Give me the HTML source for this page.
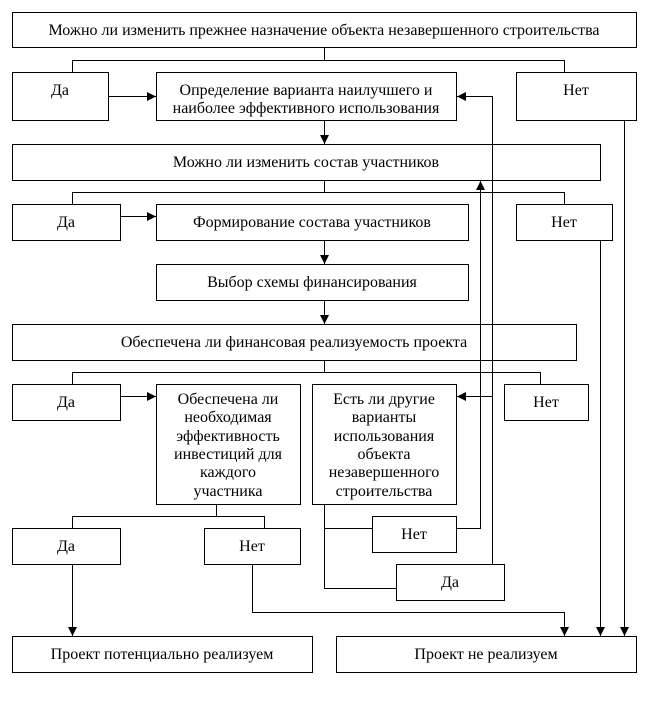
<!DOCTYPE html>
<html><head><meta charset="utf-8"><style>
html,body{margin:0;padding:0;background:#fff;}
svg{display:block;}
text{font-family:"Liberation Serif","DejaVu Serif",serif;font-size:16px;fill:#000;text-anchor:middle;}
</style></head><body>
<svg width="648" height="708" viewBox="0 0 648 708" xmlns="http://www.w3.org/2000/svg">
<defs>
<marker id="a" viewBox="0 0 10 10" refX="10" refY="5" markerWidth="10" markerHeight="9" markerUnits="userSpaceOnUse" orient="auto">
<path d="M0,0 L10,5 L0,10 z" fill="#000"/>
</marker>
</defs>
<g fill="none" stroke="#000" stroke-width="1">
<rect x="12.5" y="12.5" width="624" height="35"/>
<rect x="12.5" y="72.5" width="96" height="48"/>
<rect x="156.5" y="72.5" width="300" height="48"/>
<rect x="516.5" y="72.5" width="120" height="48"/>
<rect x="12.5" y="144.5" width="588" height="36"/>
<rect x="12.5" y="204.5" width="108" height="36"/>
<rect x="156.5" y="204.5" width="312" height="36"/>
<rect x="516.5" y="204.5" width="96" height="36"/>
<rect x="156.5" y="264.5" width="312" height="36"/>
<rect x="12.5" y="324.5" width="564" height="36"/>
<rect x="12.5" y="384.5" width="108" height="36"/>
<rect x="156.5" y="384.5" width="144" height="120"/>
<rect x="312.5" y="384.5" width="144" height="120"/>
<rect x="504.5" y="384.5" width="84" height="36"/>
<rect x="12.5" y="528.5" width="108" height="36"/>
<rect x="204.5" y="528.5" width="96" height="36"/>
<rect x="372.5" y="516.5" width="84" height="36"/>
<rect x="396.5" y="564.5" width="108" height="36"/>
<rect x="12.5" y="636.5" width="300" height="36"/>
<rect x="336.5" y="636.5" width="300" height="36"/>
<path d="M324.5 48 V60.5 M72.5 72 V60.5 H564.5 V72"/>
<path d="M324.5 180 V192.5 M72.5 204 V192.5 H564.5 V204"/>
<path d="M324.5 360 V372.5 M72.5 384 V372.5 H540.5 V384"/>
<path d="M216.5 504 V516.5 M72.5 528 V516.5 H264.5 V528"/>
<path d="M324.5 504 V588.5 H396 M324.5 528.5 H372"/>
<path d="M457 528.5 H480.5 V182"/>
<path d="M492.5 564 V96.5 H457"/>
<path d="M252.5 564 V612.5 H564.5 V636"/>
<path d="M600.5 240 V636"/>
<path d="M624.5 120 V636"/>
<path d="M72.5 564 V636"/>
</g>
<g stroke="#000" stroke-width="1" fill="none">
<line x1="108" y1="96.5" x2="156" y2="96.5" marker-end="url(#a)"/>
<line x1="492.5" y1="96.5" x2="457" y2="96.5" marker-end="url(#a)"/>
<line x1="324.5" y1="120" x2="324.5" y2="144" marker-end="url(#a)"/>
<line x1="480.5" y1="200" x2="480.5" y2="181" marker-end="url(#a)"/>
<line x1="120" y1="216.5" x2="156" y2="216.5" marker-end="url(#a)"/>
<line x1="324.5" y1="240" x2="324.5" y2="264" marker-end="url(#a)"/>
<line x1="324.5" y1="300" x2="324.5" y2="324" marker-end="url(#a)"/>
<line x1="120" y1="396.5" x2="156" y2="396.5" marker-end="url(#a)"/>
<line x1="492.5" y1="396.5" x2="457" y2="396.5" marker-end="url(#a)"/>
<line x1="72.5" y1="600" x2="72.5" y2="636" marker-end="url(#a)"/>
<line x1="564.5" y1="612" x2="564.5" y2="636" marker-end="url(#a)"/>
<line x1="600.5" y1="612" x2="600.5" y2="636" marker-end="url(#a)"/>
<line x1="624.5" y1="612" x2="624.5" y2="636" marker-end="url(#a)"/>
</g>
<text x="324" y="35">Можно ли изменить прежнее назначение объекта незавершенного строительства</text>
<text x="60" y="95">Да</text>
<text x="306" y="95">Определение варианта наилучшего и</text>
<text x="306" y="113">наиболее эффективного использования</text>
<text x="576" y="95">Нет</text>
<text x="306" y="167">Можно ли изменить состав участников</text>
<text x="66" y="227">Да</text>
<text x="312" y="227">Формирование состава участников</text>
<text x="564" y="227">Нет</text>
<text x="312" y="287">Выбор схемы финансирования</text>
<text x="294" y="347">Обеспечена ли финансовая реализуемость проекта</text>
<text x="66" y="407">Да</text>
<text x="228" y="404">Обеспечена ли</text>
<text x="228" y="422">необходимая</text>
<text x="228" y="441">эффективность</text>
<text x="228" y="459">инвестиций для</text>
<text x="228" y="477">каждого</text>
<text x="228" y="496">участника</text>
<text x="384" y="404">Есть ли другие</text>
<text x="384" y="422">варианты</text>
<text x="384" y="441">использования</text>
<text x="384" y="459">объекта</text>
<text x="384" y="477">незавершенного</text>
<text x="384" y="496">строительства</text>
<text x="546" y="407">Нет</text>
<text x="66" y="551">Да</text>
<text x="252" y="551">Нет</text>
<text x="414" y="539">Нет</text>
<text x="450" y="587">Да</text>
<text x="162" y="659">Проект потенциально реализуем</text>
<text x="486" y="659">Проект не реализуем</text>
</svg>
</body></html>
